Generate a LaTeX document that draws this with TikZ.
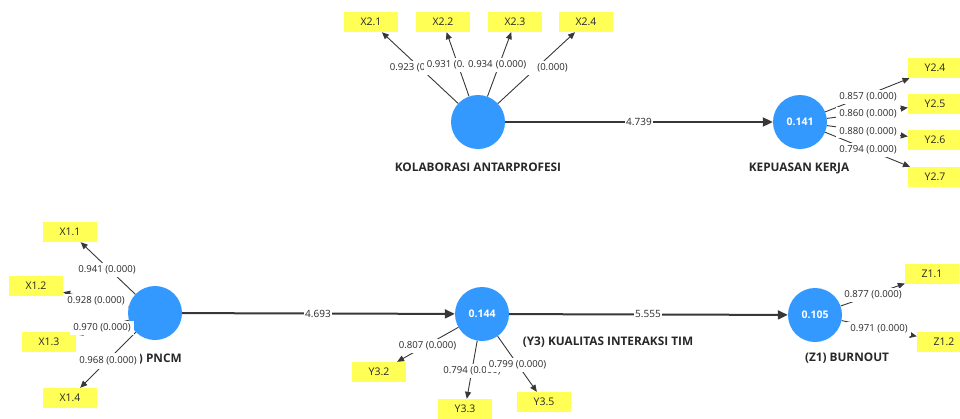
\documentclass[tikz,border=0pt]{standalone}
\usepackage{fontspec}
\setmainfont{Open Sans}
\usetikzlibrary{arrows.meta}
\definecolor{lvblue}{RGB}{51,153,255}
\definecolor{indyellow}{RGB}{255,255,85}
\definecolor{pathgray}{RGB}{55,55,55}
\definecolor{txtgray}{RGB}{40,40,40}
\begin{document}
\begin{tikzpicture}[x=1pt,y=-1pt,
  latent/.style={circle,fill=lvblue,minimum size=54pt,inner sep=0pt,text=white,
    font=\fontsize{10.5}{12}\selectfont\bfseries},
  indicator/.style={rectangle,fill=indyellow,minimum width=54pt,minimum height=20pt,
    inner sep=0pt,text=txtgray,font=\fontsize{10.5}{12}\selectfont},
  lvname/.style={inner sep=0pt,text=txtgray,font=\fontsize{11.8}{13}\selectfont\bfseries},
  loading/.style={fill=white,inner xsep=3pt,inner ysep=2.5pt,text=txtgray,
    font=\fontsize{9.6}{11}\selectfont},
  coef/.style={fill=white,inner xsep=1.5pt,inner ysep=1pt,text=txtgray,
    font=\fontsize{10}{12}\selectfont},
  structural/.style={draw=pathgray,line width=2pt,-{Triangle[length=10pt,width=9pt]}},
  outer/.style={draw=pathgray,line width=0.9pt,-{Triangle[length=7pt,width=6pt]}}
]
\useasboundingbox (0,0) rectangle (960,418);

% ---- latent variables ----
\node[latent] (kol) at (478,122) {};
\node[latent] (kep) at (800,122) {0.141};
\node[latent] (pncm) at (155,313) {};
\node[latent] (kit) at (482,314) {0.144};
\node[latent] (bur) at (815,315) {0.105};

% ---- indicators ----
\node[indicator] (x21) at (371,22) {X2.1};
\node[indicator] (x22) at (443,22) {X2.2};
\node[indicator] (x23) at (515,22) {X2.3};
\node[indicator] (x24) at (586,22) {X2.4};
\node[indicator] (y24) at (935,68) {Y2.4};
\node[indicator] (y25) at (935,104) {Y2.5};
\node[indicator] (y26) at (935,140) {Y2.6};
\node[indicator] (y27) at (935,177) {Y2.7};
\node[indicator] (x11) at (70,232) {X1.1};
\node[indicator] (x12) at (36,286) {X1.2};
\node[indicator] (x13) at (49,342) {X1.3};
\node[indicator] (x14) at (70,398) {X1.4};
\node[indicator] (y32) at (379,372) {Y3.2};
\node[indicator] (y33) at (465,409) {Y3.3};
\node[indicator] (y35) at (544,402) {Y3.5};
\node[indicator] (z11) at (932,274) {Z1.1};
\node[indicator] (z12) at (944,342) {Z1.2};

% ---- construct names ----
\node[lvname] (kolname) at (478,167) {KOLABORASI ANTARPROFESI};
\node[lvname] (kepname) at (799,168) {KEPUASAN KERJA};
\node[lvname] (pncmname) at (151,359.5) {(X1) PNCM};
\node[lvname] (kitname) at (608,342) {(Y3) KUALITAS INTERAKSI TIM};
\node[lvname] (burname) at (847,358) {(Z1) BURNOUT};

% ---- structural paths ----
\draw[structural] (kol) -- (kep);
\draw[structural] (pncm) -- (kit);
\draw[structural] (kit) -- (bur);

% ---- outer loadings ----
\foreach \t in {x21,x22,x23,x24} \draw[outer] (kol) -- (\t);
\foreach \t in {y24,y25,y26,y27} \draw[outer] (kep) -- (\t);
\foreach \t in {x11,x12,x13,x14} \draw[outer] (pncm) -- (\t);
\foreach \t in {y32,y33,y35} \draw[outer] (kit) -- (\t);
\foreach \t in {z11,z12} \draw[outer] (bur) -- (\t);

% ---- path coefficients ----
\node[coef] (c1) at (639,122) {4.739};
\node[coef] (c2) at (318,314) {4.693};
\node[coef] (c3) at (648,314) {5.555};

% ---- loading labels (later ones lie over earlier ones) ----
\node[loading] (l21) at (418.5,68) {0.923 (0.000)};
\node[loading] (l22) at (455.5,65) {0.931 (0.000)};
\node[loading] (l24) at (539,68) {0.917 (0.000)};
\node[loading,anchor=west,text width=66pt,align=left] (l23) at (465,65) {0.934 (0.000)};

\node[loading] (m24) at (868,97) {0.857 (0.000)};
\node[loading] (m25) at (868,114) {0.860 (0.000)};
\node[loading] (m26) at (868,131.5) {0.880 (0.000)};
\node[loading] (m27) at (868,150) {0.794 (0.000)};

\node[loading] (l11) at (107,270) {0.941 (0.000)};
\node[loading] (l12) at (96,301) {0.928 (0.000)};
\node[loading] (l13) at (102,328) {0.970 (0.000)};
\node[loading,inner ysep=3.5pt] (l14) at (108,361) {0.968 (0.000)};

\node[loading] (l32) at (427.5,346) {0.807 (0.000)};
\node[loading] (l33) at (472,371) {0.794 (0.000)};
\node[loading] (l35) at (517.5,365) {0.799 (0.000)};

\node[loading] (n11) at (873,295) {0.877 (0.000)};
\node[loading] (n12) at (879,329) {0.971 (0.000)};
\end{tikzpicture}
\end{document}
